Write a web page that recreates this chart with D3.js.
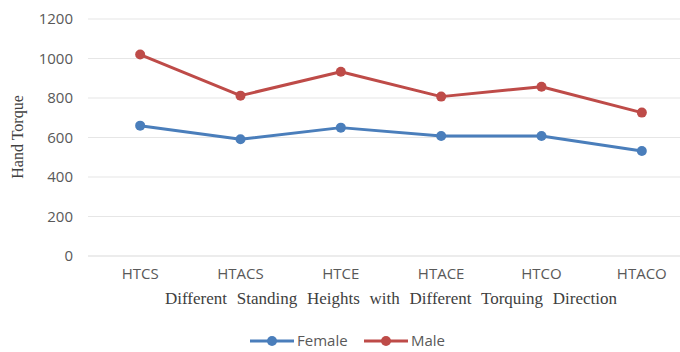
<!DOCTYPE html>
<html>
<head>
<meta charset="utf-8">
<script src="https://cdn.jsdelivr.net/npm/d3@7"></script>
<style>
  body { margin: 0; background: #fff; }
  svg { display: block; }
</style>
</head>
<body>
<script>
const width = 680, height = 352;

const categories = ["HTCS", "HTACS", "HTCE", "HTACE", "HTCO", "HTACO"];
const female = [660, 591, 650, 608, 608, 532];
const male = [1020, 812, 933, 807, 857, 726];
const yTicks = [0, 200, 400, 600, 800, 1000, 1200];

const series = [
  { name: "Female", color: "#4a7ebb", values: female },
  { name: "Male", color: "#be4b48", values: male }
];

const svg = d3.select("body").append("svg")
  .attr("width", width)
  .attr("height", height);

// plot area
const x = d3.scaleBand().domain(categories).range([90, 692]);
const y = d3.scaleLinear().domain([0, 1200]).range([256, 19]);

// gridlines
svg.append("g")
  .selectAll("line")
  .data(yTicks)
  .join("line")
  .attr("x1", 88)
  .attr("x2", 692)
  .attr("y1", d => y(d))
  .attr("y2", d => y(d))
  .attr("stroke", d => d === 0 ? "#d9d9d9" : "#e6e6e6")
  .attr("stroke-width", 1.2);

// y tick labels
svg.append("g")
  .selectAll("text")
  .data(yTicks)
  .join("text")
  .attr("x", 73)
  .attr("y", d => y(d))
  .attr("dy", "0.35em")
  .attr("text-anchor", "end")
  .attr("font-family", "Open Sans, sans-serif")
  .attr("font-size", 15)
  .attr("fill", "#595959")
  .text(d => d);

// x tick labels
svg.append("g")
  .selectAll("text")
  .data(categories)
  .join("text")
  .attr("x", d => x(d) + x.bandwidth() / 2)
  .attr("y", 274)
  .attr("dy", "0.35em")
  .attr("text-anchor", "middle")
  .attr("font-family", "Open Sans, sans-serif")
  .attr("font-size", 15)
  .attr("fill", "#595959")
  .text(d => d);

// axis titles
svg.append("text")
  .attr("x", 391)
  .attr("y", 298)
  .attr("dy", "0.35em")
  .attr("text-anchor", "middle")
  .attr("font-family", "Liberation Serif, serif")
  .attr("font-size", 17)
  .attr("word-spacing", 5.5)
  .attr("fill", "#404040")
  .text("Different Standing Heights with Different Torquing Direction");

svg.append("text")
  .attr("transform", "translate(17,137) rotate(-90)")
  .attr("dy", "0.35em")
  .attr("text-anchor", "middle")
  .attr("font-family", "Liberation Serif, serif")
  .attr("font-size", 16)
  .attr("fill", "#404040")
  .text("Hand Torque");

// lines and markers
const line = d3.line()
  .x((d, i) => x(categories[i]) + x.bandwidth() / 2)
  .y(d => y(d));

series.forEach(s => {
  svg.append("path")
    .datum(s.values)
    .attr("fill", "none")
    .attr("stroke", s.color)
    .attr("stroke-width", 3)
    .attr("stroke-linejoin", "round")
    .attr("d", line);

  svg.append("g")
    .selectAll("circle")
    .data(s.values)
    .join("circle")
    .attr("cx", (d, i) => x(categories[i]) + x.bandwidth() / 2)
    .attr("cy", d => y(d))
    .attr("r", 5)
    .attr("fill", s.color);
});

// legend
const legendX = [250, 364];
const legend = svg.append("g")
  .selectAll("g")
  .data(series)
  .join("g")
  .attr("transform", (d, i) => `translate(${legendX[i]},341)`);

legend.append("line")
  .attr("x1", 0).attr("x2", 44)
  .attr("stroke", d => d.color)
  .attr("stroke-width", 3);

legend.append("circle")
  .attr("cx", 22)
  .attr("r", 5)
  .attr("fill", d => d.color);

legend.append("text")
  .attr("x", 47)
  .attr("dy", "0.35em")
  .attr("font-family", "Open Sans, sans-serif")
  .attr("font-size", 15)
  .attr("fill", "#595959")
  .text(d => d.name);
</script>
</body>
</html>
